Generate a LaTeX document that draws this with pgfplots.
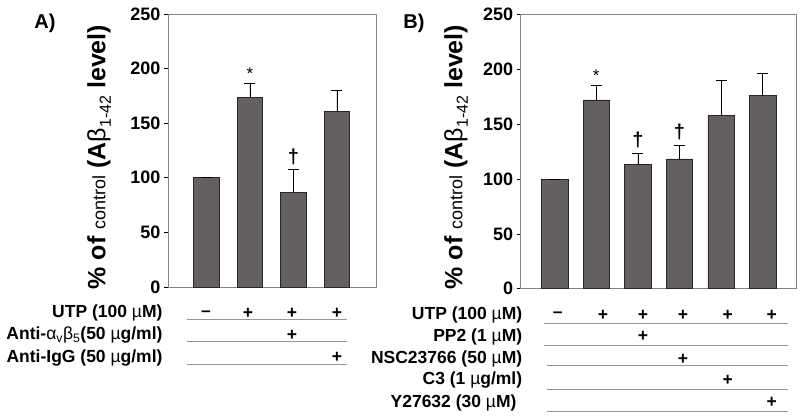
\documentclass[border=0pt]{standalone}
\usepackage{fontspec}
\setmainfont{Liberation Sans}
\usepackage{pgfplots}
\pgfplotsset{compat=1.18}
\definecolor{barfill}{RGB}{101,96,96}
\definecolor{framegray}{RGB}{130,130,130}
\definecolor{rulegray}{RGB}{150,150,150}
\newcommand{\tfont}{\bfseries\fontsize{17.5}{20}\selectfont}
\newcommand{\ylab}{\% of {\mdseries\fontsize{18}{20}\selectfont control} (A{\mdseries β}\raisebox{-0.22em}{\mdseries\fontsize{16}{18}\selectfont 1-42} level)}
\pgfplotsset{mybar/.style={
  scale only axis, ymin=0, ymax=250, ytick={0,50,...,250}, xtick=\empty,
  axis line style={framegray, line width=0.9pt},
  ytick pos=left, tick align=outside, major tick length=4pt,
  tick style={black, line width=0.8pt},
  ticklabel style={font=\bfseries\fontsize{18}{20}\selectfont},
  /pgf/number format/assume math mode=true,
  clip=false, ybar,
}}
\pgfplotsset{barplot/.style={fill=barfill, draw=black!85, line width=0.7pt,
  error bars/.cd, y dir=plus, y explicit,
  error bar style={black, line width=0.8pt},
  error mark options={rotate=90, mark size=5.5pt, black, line width=0.8pt}}}
\begin{document}
\begin{tikzpicture}[x=1pt,y=1pt]
\useasboundingbox (0,0) rectangle (800,-417);
% ---------- Panel A ----------
\begin{axis}[mybar, at={(168pt,-287pt)}, anchor=south west,
  width=208pt, height=273pt, xmin=0.115, xmax=4.897]
\addplot[bar width=25.5pt, barplot] table[x=x, y=y, y error=e] {
x y e
1 100 0
2 173.3 13.2
3 86.7 20.7
4 160.9 18.9
};
\node[anchor=south, font=\fontsize{17}{20}\selectfont] at (axis cs:2,186.5) {*};
\node[anchor=south, font=\bfseries\fontsize{20}{22}\selectfont] at (axis cs:3,109) {†};
\end{axis}
\node[rotate=90, font=\bfseries\fontsize{25}{30}\selectfont] at (99,-157) {\ylab};
\node[font=\bfseries\fontsize{20}{24}\selectfont] at (45,-23) {A)};
% table A
\foreach \yy in {319.3,341,364.3} \draw[rulegray, line width=0.6pt] (186.7,-\yy) -- (346.7,-\yy);
\node[anchor=east, font=\tfont] at (166,-313.3) {UTP (100 {\mdseries µ}M)};
\node[anchor=east, font=\tfont] at (166,-335) {Anti-{\mdseries α\textsubscript{v}β\textsubscript{5}}(50 {\mdseries µ}g/ml)};
\node[anchor=east, font=\tfont] at (166,-357.7) {Anti-IgG (50 {\mdseries µ}g/ml)};
\node[font=\tfont] at (206,-313.3) {–};
\node[font=\tfont] at (248,-313.3) {+};
\node[font=\tfont] at (292,-313.3) {+};
\node[font=\tfont] at (337,-313.3) {+};
\node[font=\tfont] at (292,-335) {+};
\node[font=\tfont] at (337,-357.7) {+};
% ---------- Panel B ----------
\begin{axis}[mybar, at={(520.7pt,-288.7pt)}, anchor=south west,
  width=275.3pt, height=274pt, xmin=0.183, xmax=6.8]
\addplot[bar width=26.5pt, barplot] table[x=x, y=y, y error=e] {
x y e
1 100 0
2 172.3 12.8
3 113.2 10.1
4 118.4 12.6
5 158.4 31.6
6 176.0 20.1
};
\node[anchor=south, font=\fontsize{17}{20}\selectfont] at (axis cs:2,186) {*};
\node[anchor=south, font=\bfseries\fontsize{20}{22}\selectfont] at (axis cs:3,125) {†};
\node[anchor=south, font=\bfseries\fontsize{20}{22}\selectfont] at (axis cs:4,133) {†};
\end{axis}
\node[rotate=90, font=\bfseries\fontsize{25}{30}\selectfont] at (456,-157) {\ylab};
\node[font=\bfseries\fontsize{20}{24}\selectfont] at (414,-23) {B)};
% table B
\draw[rulegray, line width=0.6pt] (544,-323.3) -- (788,-323.3);
\draw[rulegray, line width=0.6pt] (544,-345.7) -- (788,-345.7);
\draw[rulegray, line width=0.6pt] (546.7,-365.7) -- (788,-365.7);
\draw[rulegray, line width=0.6pt] (546.7,-389.3) -- (788,-389.3);
\draw[rulegray, line width=0.6pt] (546.7,-411.7) -- (788,-411.7);
\node[anchor=east, font=\tfont] at (525.7,-315) {UTP (100 {\mdseries µ}M)};
\node[anchor=east, font=\tfont] at (525.7,-336.7) {PP2 (1 {\mdseries µ}M)};
\node[anchor=east, font=\tfont] at (525.7,-359) {NSC23766 (50 {\mdseries µ}M)};
\node[anchor=east, font=\tfont] at (525.7,-380) {C3 (1 {\mdseries µ}g/ml)};
\node[anchor=east, font=\tfont] at (520,-402.7) {Y27632 (30 {\mdseries µ}M)};
\node[font=\tfont] at (557.7,-315) {–};
\node[font=\tfont] at (603,-315) {+};
\node[font=\tfont] at (643,-315) {+};
\node[font=\tfont] at (683,-315) {+};
\node[font=\tfont] at (727.7,-315) {+};
\node[font=\tfont] at (771.7,-315) {+};
\node[font=\tfont] at (643,-336.7) {+};
\node[font=\tfont] at (683,-359) {+};
\node[font=\tfont] at (727.7,-380) {+};
\node[font=\tfont] at (771.7,-402.7) {+};
\end{tikzpicture}
\end{document}
